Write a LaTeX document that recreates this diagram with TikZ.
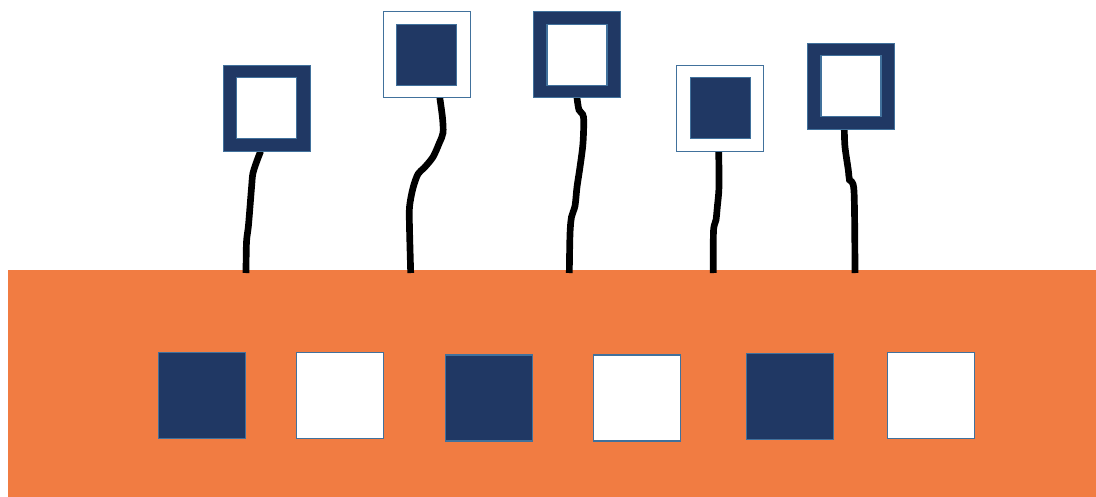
\documentclass[tikz,border=0pt]{standalone}
\usetikzlibrary{calc}

\definecolor{navy}{RGB}{32,56,100}
\definecolor{barorange}{RGB}{241,124,66}
\definecolor{edgeblue}{RGB}{65,113,156}

\tikzset{
  sq/.style={draw=edgeblue, line width=0.6pt, minimum width=1.74cm, minimum height=1.72cm, inner sep=0pt, outer sep=0pt},
  darksq/.style={sq, fill=navy},
  lightsq/.style={sq, fill=white},
  innersq/.style={draw=edgeblue, line width=0.6pt, minimum width=1.2cm, minimum height=1.22cm, inner sep=0pt, outer sep=0pt},
  stem/.style={line width=3.8pt, black}
}

\begin{document}
\begin{tikzpicture}[x=0.02cm, y=-0.02cm]

\useasboundingbox (0,0) rectangle (1096,497);

% Orange bar
\fill[barorange] (8,270) rectangle (1096,497);

% Foot points of the stems
\coordinate (b1) at (246,273);
\coordinate (b2) at (410.7,273);
\coordinate (b3) at (569.3,273);
\coordinate (b4) at (713.3,273);
\coordinate (b5) at (855,273);

% Flags (outer squares)
\node[darksq]  (f1) at (266.7,108.3) {};
\node[lightsq] (f2) at (426.8,54.8) {};
\node[darksq]  (f3) at (577,54.8) {};
\node[lightsq] (f4) at (720.2,108.3) {};
\node[darksq]  (f5) at (851,86.3) {};

% Stems
\draw[stem] plot[smooth, tension=0.5] coordinates {($(f1.south)+(-6,0)$) (258,158) (253,173) (251.5,188) (248.5,225) (246.5,242) (b1)};
\draw[stem] plot[smooth, tension=0.5] coordinates {($(f2.south)+(13,0)$) (442.5,118) (443,133) (439.3,143) (433,157) (424,168) (418,174) (413,188) (409.5,207) (409.5,228) (b2)};
\draw[stem] plot[smooth, tension=0.5] coordinates {($(f3.south)+(0,0)$) (579,110) (583.5,117) (583,143) (580,167) (577,187) (575,206) (571.5,217) (570,234) (b3)};
\draw[stem] plot[smooth, tension=0.5] coordinates {($(f4.south)+(-1.5,0)$) (719,187) (717.3,207) (716,220) (713.5,231) (b4)};
\draw[stem] plot[smooth, tension=0.5] coordinates {($(f5.south)+(-6.7,0)$) (845,147) (848.3,170) (849.5,180) (854,191) (b5)};

% Flags on top of the stem ends
\node[darksq]  at (f1) {};
\node[lightsq] at (f2) {};
\node[darksq]  at (f3) {};
\node[lightsq] at (f4) {};
\node[darksq]  at (f5) {};

% Inner squares of the flags
\node[innersq, fill=white] (i1) at (f1) {};
\node[innersq, fill=navy]  (i2) at (f2) {};
\node[innersq, fill=white] (i3) at (f3) {};
\node[innersq, fill=navy]  (i4) at (f4) {};
\node[innersq, fill=white] (i5) at (f5) {};

% Squares on the bar
\node[darksq]  (s1) at (202,395.7) {};
\node[lightsq] (s2) at (340.2,395.7) {};
\node[darksq]  (s3) at (489.3,398) {};
\node[lightsq] (s4) at (637.2,398) {};
\node[darksq]  (s5) at (790,396.8) {};
\node[lightsq] (s6) at (930.7,395.7) {};

\end{tikzpicture}
\end{document}
